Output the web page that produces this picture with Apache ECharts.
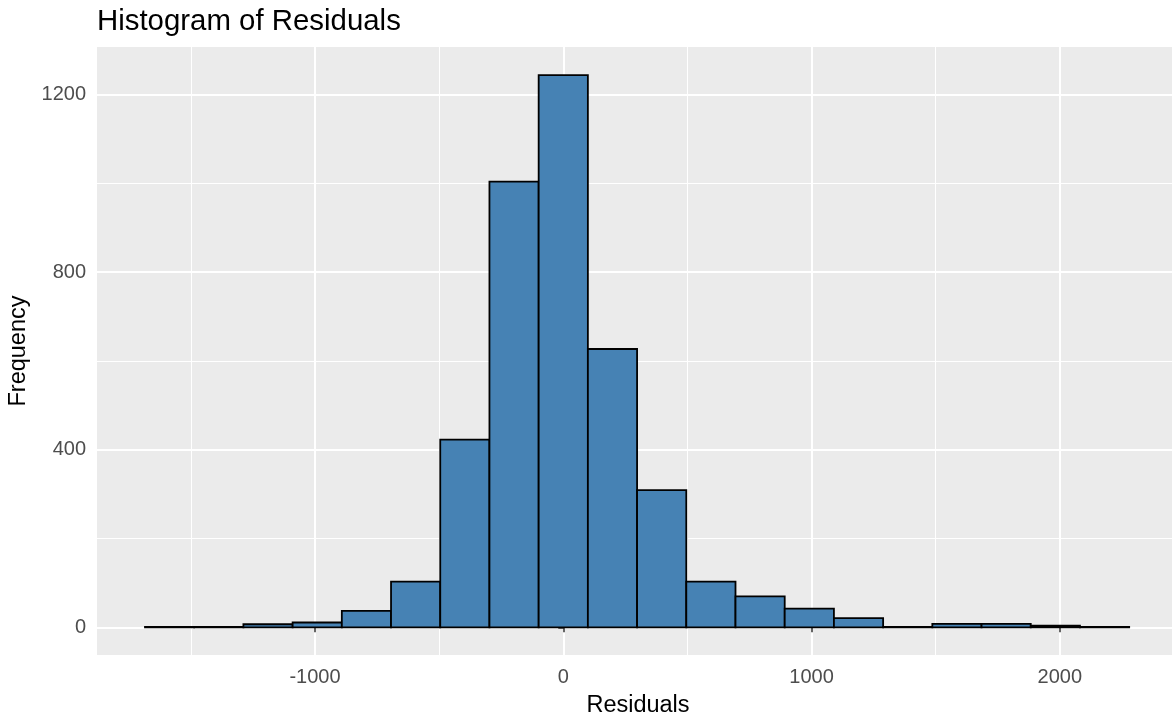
<!DOCTYPE html>
<html>
<head>
<meta charset="utf-8">
<title>Histogram of Residuals</title>
<script src="https://cdn.jsdelivr.net/npm/echarts@6.0.0/dist/echarts.min.js"></script>
<style>
    html, body { margin: 0; padding: 0; background: #fff; overflow: hidden; }
    #hist { width: 1172px; height: 717px; }
</style>
</head>
<body>
<div id="hist"></div>
<script>
// bin edges (20 bins) and counts
var binEdges = [-1684.7, -1486.5, -1288.3, -1090.1, -891.9, -693.7, -495.5, -297.3, -99.1, 99.1,
    297.3, 495.5, 693.7, 891.9, 1090.1, 1288.3, 1486.5, 1684.7, 1882.9, 2081.1, 2279.3];
var counts = [1, 1, 7, 11, 37, 103, 423, 1004, 1244, 627, 309, 103, 70, 42, 21, 1, 8, 8, 4, 1];
var xMajor = [-1000, 0, 1000, 2000];
var xMinor = [-1500, -500, 500, 1500];
var yMajor = [0, 400, 800, 1200];
var yMinor = [200, 600, 1000];

var xMin = -1878, xMax = 2480;
var yMin = -62.25, yMax = 1307.25;

var fontName = '"Liberation Sans", Arial, sans-serif';

var bins = [];
for (var i = 0; i < counts.length; i++) {
    bins.push([binEdges[i], binEdges[i + 1], counts[i]]);
}

function plain(v) {
    return String(v);
}

var chart = echarts.init(document.getElementById('hist'), null, {renderer: 'canvas'});
chart.setOption({
    animation: false,
    backgroundColor: '#fff',
    title: {
        text: 'Histogram of Residuals',
        left: 92,
        top: 2,
        textStyle: {fontSize: 29.4, fontWeight: 'normal', color: '#000', fontFamily: fontName}
    },
    grid: {
        left: 97,
        top: 47,
        width: 1082,
        bottom: 62,
        outerBoundsMode: 'none',
        containLabel: false,
        show: true,
        backgroundColor: '#EBEBEB',
        borderWidth: 0
    },
    xAxis: [{
        type: 'value',
        min: xMin,
        max: xMax,
        axisLine: {show: false},
        axisTick: {show: true, length: 5, customValues: xMajor, lineStyle: {color: '#333', width: 1.5}},
        axisLabel: {customValues: xMajor, formatter: plain, color: '#4D4D4D', fontSize: 20, margin: 12, fontFamily: fontName},
        splitLine: {show: true, lineStyle: {color: '#fff', width: 2}},
        name: 'Residuals',
        nameLocation: 'middle',
        nameGap: 39,
        nameTextStyle: {fontSize: 23.5, color: '#000', fontFamily: fontName}
    }, {
        type: 'value',
        min: xMin,
        max: xMax,
        position: 'bottom',
        axisLine: {show: false},
        axisTick: {show: false, customValues: xMinor},
        axisLabel: {show: false, customValues: xMinor},
        splitLine: {show: true, lineStyle: {color: '#fff', width: 1}}
    }],
    yAxis: [{
        type: 'value',
        min: yMin,
        max: yMax,
        axisLine: {show: false},
        axisTick: {show: true, length: 5, customValues: yMajor, lineStyle: {color: '#333', width: 1.5}},
        axisLabel: {customValues: yMajor, formatter: plain, color: '#4D4D4D', fontSize: 20, margin: 11,
            padding: [3, 0, 0, 0], fontFamily: fontName},
        splitLine: {show: true, lineStyle: {color: '#fff', width: 2}},
        name: 'Frequency',
        nameLocation: 'middle',
        nameGap: 60,
        nameTextStyle: {fontSize: 23.5, color: '#000', fontFamily: fontName}
    }, {
        type: 'value',
        min: yMin,
        max: yMax,
        position: 'left',
        axisLine: {show: false},
        axisTick: {show: false, customValues: yMinor},
        axisLabel: {show: false, customValues: yMinor},
        splitLine: {show: true, lineStyle: {color: '#fff', width: 1}}
    }],
    series: [{
        type: 'custom',
        xAxisIndex: 0,
        yAxisIndex: 0,
        encode: {x: [0, 1], y: 2},
        data: bins,
        renderItem: function(params, api) {
            var p0 = api.coord([api.value(0), api.value(2)]);
            var p1 = api.coord([api.value(1), 0]);
            return {
                type: 'rect',
                shape: {x: p0[0], y: p0[1], width: p1[0] - p0[0], height: p1[1] - p0[1]},
                style: {fill: '#4682B4', stroke: '#000', lineWidth: 1.8}
            };
        }
    }]
});
</script>
</body>
</html>
